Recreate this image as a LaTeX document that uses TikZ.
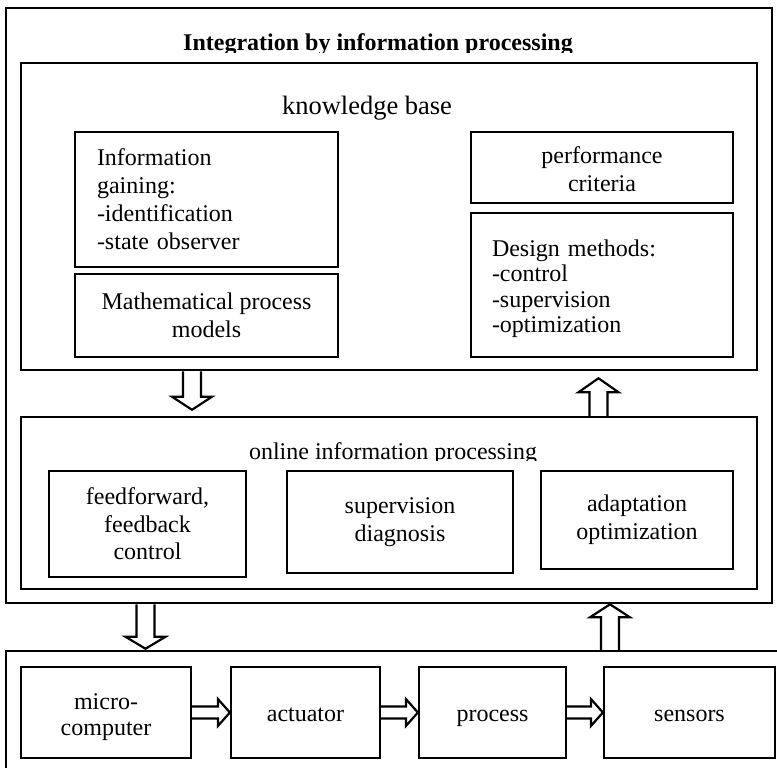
\documentclass[tikz,border=0pt]{standalone}
\usepackage{fontspec}
\setmainfont{Liberation Serif}
\usetikzlibrary{calc}
\newcommand\bodyfont{\fontsize{24}{27}\selectfont}
\tikzset{
  box/.style={draw, line width=2.2pt, rectangle, inner sep=0pt, align=center, font=\bodyfont},
  bigbox/.style={box, line width=2.5pt},
  leftbox/.style={box, align=left, inner xsep=#1, text width=220pt},
  cbox/.style={box, align=center, text width=#1},
  rowtext/.style={text height=17pt, text depth=-2pt},
  blk/.style={draw, line width=2.2pt, fill=white, line join=miter, miter limit=10},
}
\newcommand\vblk[3]{%
  \draw[blk] ($(#1)+(-9,0)$) -- ($(#2)+(-9,#3)$) -- ($(#2)+(-20,#3)$) -- (#2)
    -- ($(#2)+(20,#3)$) -- ($(#2)+(9,#3)$) -- ($(#1)+(9,0)$);}
\newcommand\hblk[2]{%
  \draw[blk] ($(#1)+(0,-6)$) -- ($(#2)+(-12,-6)$) -- ($(#2)+(-12,-13.5)$) -- (#2)
    -- ($(#2)+(-12,13.5)$) -- ($(#2)+(-12,6)$) -- ($(#1)+(0,6)$);}
\begin{document}
\begin{tikzpicture}[x=1pt,y=-1pt]
\clip (0,0) rectangle (777,768);
\fill[white] (0,0) rectangle (777,768);

% outer integration box
\node[bigbox, line width=2.6pt, minimum width=766pt, minimum height=595pt] (outer) at (389,305.5) {};
\begin{scope}
  \clip (0,0) rectangle (777,52.5);
  \node[font=\bfseries\fontsize{24}{27}\selectfont, anchor=base, inner sep=0pt] (title) at (378,51) {Integration by information processing};
\end{scope}

% knowledge base
\node[bigbox, minimum width=736pt, minimum height=307pt] (kb) at (389,216.5) {};
\node[font=\fontsize{26.5}{30}\selectfont, anchor=base, inner sep=0pt] (kbt) at (367,114) {knowledge base};

\node[leftbox=22pt, text width=219pt, minimum width=263pt, minimum height=135pt,
      font=\fontsize{24}{28}\selectfont] (info) at (206.5,199.5)
  {Information\\gaining:\\-identification\\-state observer};
\node[box, minimum width=263pt, minimum height=83pt, font=\fontsize{24}{28}\selectfont] (math) at (206.5,315.5)
  {Mathematical process\\models};
\node[cbox=220pt, minimum width=262pt, minimum height=71pt, font=\fontsize{24}{28}\selectfont, text height=20pt] (perf) at (602,167.5)
  {performance\\criteria};
\node[leftbox=21pt, minimum width=262pt, minimum height=144pt, text height=24.5pt,
      font=\fontsize{24}{25.5}\selectfont] (design) at (602,285)
  {Design methods:\\-control\\-supervision\\-optimization};

% online information processing
\node[bigbox, minimum width=736pt, minimum height=172pt] (online) at (389,503) {};
\begin{scope}
  \clip (0,0) rectangle (777,460);
  \node[font=\bodyfont, anchor=base, inner sep=0pt] (ont) at (393,459) {online information processing};
\end{scope}
\node[box, minimum width=197pt, minimum height=106pt, font=\fontsize{24}{27.5}\selectfont] (ff) at (147.5,524)
  {feedforward,\\feedback\\control};
\node[box, minimum width=226pt, minimum height=102pt, font=\fontsize{24}{28}\selectfont] (sup) at (400,522)
  {supervision\\diagnosis};
\node[box, minimum width=192pt, minimum height=98pt, font=\fontsize{24}{28}\selectfont] (adapt) at (637,520)
  {adaptation\\optimization};

% bottom box
\node[bigbox, minimum width=794pt, minimum height=149pt] (bottom) at (403,725.5) {};
\node[cbox=150pt, minimum width=170pt, minimum height=91pt, font=\fontsize{24}{26}\selectfont, text height=25pt] (micro) at (106,712.5) {micro-\\computer};
\node[box, rowtext, minimum width=149pt, minimum height=91pt] (act) at (305.5,712.5) {actuator};
\node[box, rowtext, minimum width=147pt, minimum height=91pt] (proc) at (492.5,712.5) {process};
\node[box, rowtext, minimum width=171pt, minimum height=91pt] (sens) at (689.5,712.5) {sensors};

% horizontal block arrows
\hblk{micro.east}{act.west}
\hblk{act.east}{proc.west}
\hblk{proc.east}{sens.west}

% vertical block arrows
\coordinate (d1x) at (192,0);
\coordinate (u1x) at (598.5,0);
\coordinate (d2x) at (145.5,0);
\coordinate (u2x) at (610,0);

\coordinate (d1s) at (kb.south -| d1x);
\coordinate (d1t) at ($(online.north -| d1x)+(0,-6)$);
\vblk{d1s}{d1t}{-13}

\coordinate (u1s) at (online.north -| u1x);
\coordinate (u1t) at ($(kb.south -| u1x)+(0,7)$);
\vblk{u1s}{u1t}{14}

\coordinate (d2s) at (outer.south -| d2x);
\coordinate (d2t) at ($(bottom.north -| d2x)+(0,-1)$);
\vblk{d2s}{d2t}{-12}

\coordinate (u2s) at (bottom.north -| u2x);
\coordinate (u2t) at (outer.south -| u2x);
\vblk{u2s}{u2t}{13}
\end{tikzpicture}
\end{document}
